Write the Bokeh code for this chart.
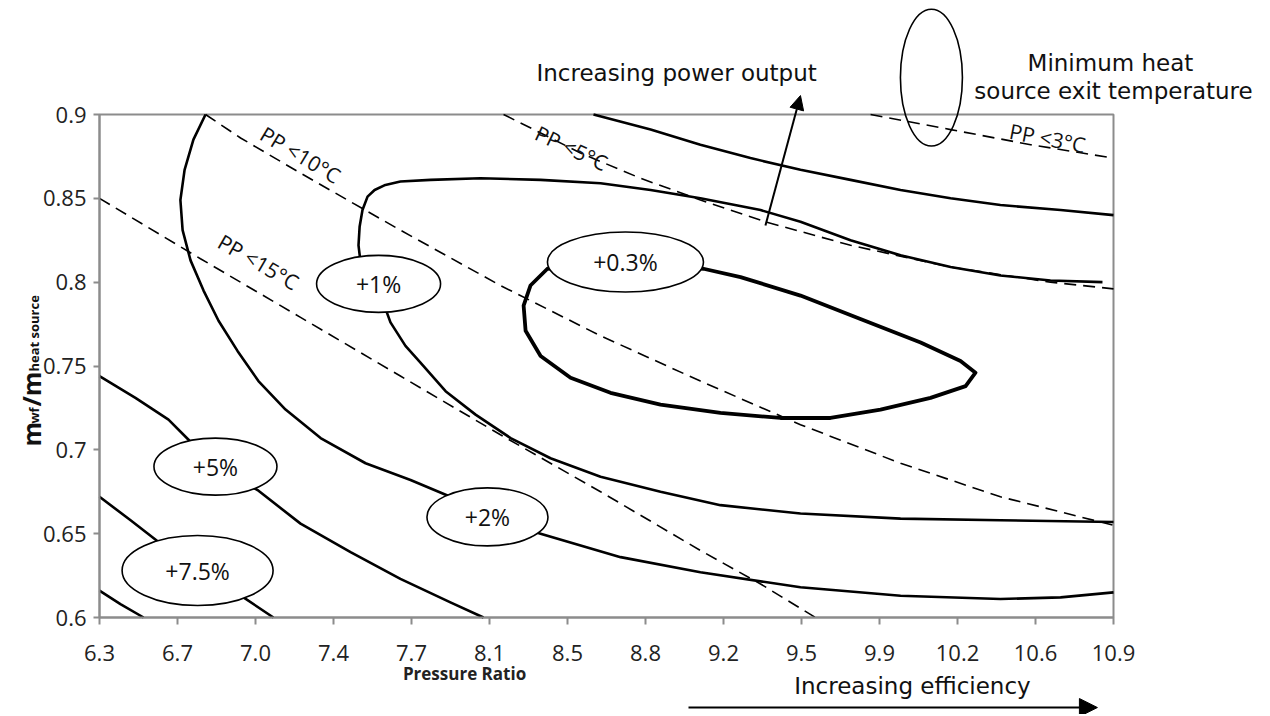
import math
from bokeh.plotting import figure
from bokeh.models import Range1d, FixedTicker, Label, Arrow, NormalHead, BoxAnnotation
from bokeh.embed import file_html
from bokeh.resources import INLINE
from bokeh.core.properties import value

# ---------------- data ----------------
x_tick_labels = ["6.3", "6.7", "7.0", "7.4", "7.7", "8.1", "8.5", "8.8", "9.2", "9.5", "9.9", "10.2", "10.6", "10.9"]
y_tick_values = [0.6, 0.65, 0.7, 0.75, 0.8, 0.85, 0.9]
y_tick_labels = ["0.6", "0.65", "0.7", "0.75", "0.8", "0.85", "0.9"]

# pinch-point limit lines (dashed)
pp15_x = [6.3, 6.758, 7.212, 7.665, 8.119, 8.573, 9.026, 9.299, 9.548]
pp15_y = [0.850, 0.814, 0.779, 0.744, 0.709, 0.675, 0.640, 0.620, 0.600]
pp10_x = [6.781, 6.940, 7.212, 7.665, 8.119, 8.573, 9.026, 9.480, 9.934, 10.387, 10.660, 10.9]
pp10_y = [0.900, 0.886, 0.865, 0.831, 0.798, 0.768, 0.741, 0.715, 0.692, 0.672, 0.663, 0.655]
pp5_x = [8.133, 8.301, 8.482, 8.754, 9.026, 9.321, 9.707, 10.161, 10.614, 10.9]
pp5_y = [0.900, 0.889, 0.877, 0.862, 0.849, 0.836, 0.822, 0.809, 0.800, 0.796]
pp3_x = [9.798, 10.161, 10.524, 10.9]
pp3_y = [0.900, 0.891, 0.882, 0.874]

# contours (solid)
ctop_x = [8.541, 8.800, 9.026, 9.253, 9.480, 9.707, 9.934, 10.161, 10.387, 10.660, 10.9]
ctop_y = [0.900, 0.891, 0.882, 0.874, 0.867, 0.861, 0.855, 0.850, 0.846, 0.843, 0.840]

c03_x = [8.686, 9.040, 9.208, 9.480, 9.752, 10.025, 10.206, 10.274, 10.229, 10.070, 9.843, 9.616,
         9.389, 9.117, 8.845, 8.618, 8.437, 8.301, 8.233, 8.224, 8.255, 8.332, 8.686]
c03_y = [0.812, 0.808, 0.803, 0.792, 0.778, 0.764, 0.753, 0.746, 0.738, 0.731, 0.724, 0.719,
         0.719, 0.722, 0.727, 0.734, 0.743, 0.756, 0.771, 0.786, 0.798, 0.808, 0.812]

c1_x = [10.850, 10.614, 10.387, 10.161, 9.934, 9.707, 9.480, 9.299, 9.026, 8.800,
        8.573, 8.301, 8.028, 7.802, 7.665, 7.597, 7.548, 7.516, 7.493, 7.480,
        7.475, 7.484, 7.511, 7.566, 7.584, 7.620, 7.688, 7.756, 7.870, 8.006,
        8.165, 8.346, 8.573, 8.845, 9.117, 9.480, 9.934, 10.387, 10.9]
c1_y = [0.800, 0.801, 0.804, 0.809, 0.816, 0.825, 0.836, 0.843, 0.850, 0.855,
        0.859, 0.861, 0.862, 0.861, 0.860, 0.858, 0.855, 0.851, 0.843, 0.833,
        0.822, 0.812, 0.805, 0.799, 0.789, 0.776, 0.762, 0.752, 0.735, 0.721,
        0.707, 0.695, 0.684, 0.675, 0.667, 0.662, 0.659, 0.658, 0.657]

c2_x = [6.781, 6.726, 6.686, 6.667, 6.677, 6.713, 6.772, 6.840, 6.926, 7.021, 7.144, 7.303,
        7.507, 7.711, 7.892, 8.060, 8.301, 8.664, 9.026, 9.480, 9.934, 10.387, 10.660, 10.9]
c2_y = [0.900, 0.885, 0.867, 0.849, 0.831, 0.813, 0.795, 0.777, 0.759, 0.741, 0.724, 0.707,
        0.692, 0.682, 0.672, 0.660, 0.650, 0.636, 0.627, 0.618, 0.613, 0.611, 0.612, 0.615]

c5_x = [6.3, 6.463, 6.613, 6.704, 6.826, 7.017, 7.212, 7.439, 7.665, 7.892, 8.042]
c5_y = [0.744, 0.731, 0.718, 0.706, 0.690, 0.676, 0.656, 0.639, 0.623, 0.609, 0.600]

c75_x = [6.3, 6.441, 6.568, 6.745, 6.953, 7.089]
c75_y = [0.672, 0.658, 0.645, 0.630, 0.612, 0.600]

c10_x = [6.3, 6.395, 6.5]
c10_y = [0.616, 0.608, 0.600]

# contour labels
lab_text = ["+0.3%", "+1%", "+2%", "+5%", "+7.5%"]
lab_x = [8.686, 7.566, 8.060, 6.826, 6.745]
lab_y = [0.812, 0.799, 0.660, 0.690, 0.628]

# pinch-point labels
pp_text = ["PP <15°C", "PP <10°C", "PP <5°C", "PP <3°C"]
pp_lx = [7.021, 7.212, 8.441, 10.601]
pp_ly = [0.812, 0.876, 0.880, 0.886]

# ---------------- layout / styles ----------------
X0, X1 = 6.3, 10.9
Y0, Y1 = 0.6, 0.9
W, H = 1266, 714
FL, FR, FT, FB = 99, 1113, 114, 617          # edges of the plotting box on the canvas (px)
sxp = (FR - FL) / (X1 - X0)
syp = (FB - FT) / (Y1 - Y0)
xmin = X0 - FL / sxp
xmax = xmin + W / sxp
ymax = Y1 + FT / syp
ymin = ymax - H / syp

n = len(x_tick_labels) - 1
x_tick_pos = [X0 + i * (X1 - X0) / n for i in range(n + 1)]

lab_w = [156, 124, 121, 123, 151]
lab_h = [60, 57, 58, 57, 70]
pp_angle_deg = [-30, -31, -25, -11]

GRAY = "#8c8c8c"
TICK_FONT = "Open Sans"
ANN_FONT = "DejaVu Sans"

p = figure(frame_width=W, frame_height=H, min_border=0,
           x_range=Range1d(xmin, xmax), y_range=Range1d(ymin, ymax),
           output_backend="svg", toolbar_location=None, background_fill_color="white",
           border_fill_color="white")
p.title.visible = False
p.grid.visible = False
p.outline_line_color = None

p.xaxis.fixed_location = Y0
p.xaxis.bounds = (X0, X1)
p.yaxis.fixed_location = X0
p.yaxis.bounds = (Y0, Y1)
p.xaxis.ticker = FixedTicker(ticks=x_tick_pos)
p.xaxis.major_label_overrides = {x_tick_pos[i]: x_tick_labels[i] for i in range(n + 1)}
p.yaxis.ticker = FixedTicker(ticks=y_tick_values)
p.yaxis.major_label_overrides = {y_tick_values[i]: y_tick_labels[i] for i in range(len(y_tick_values))}
for ax in (p.xaxis[0], p.yaxis[0]):
    ax.axis_line_color = GRAY
    ax.axis_line_width = 2
    ax.major_tick_line_color = GRAY
    ax.major_tick_line_width = 2
    ax.major_tick_in = 0
    ax.minor_tick_line_color = None
    ax.major_label_text_font = TICK_FONT
    ax.major_label_text_font_size = "22px"
    ax.major_label_text_color = "#222222"
p.xaxis.major_tick_out = 7
p.yaxis.major_tick_out = 6
p.xaxis.major_label_standoff = 20
p.yaxis.major_label_standoff = 7

# box around the plotting area
p.add_layout(BoxAnnotation(left=X0, right=X1, bottom=Y0, top=Y1, fill_alpha=0,
                           line_color=GRAY, line_width=2, line_alpha=1, level="underlay"))

# dashed pinch lines
for xs, ys in [(pp15_x, pp15_y), (pp10_x, pp10_y), (pp5_x, pp5_y), (pp3_x, pp3_y)]:
    p.line(xs, ys, line_color="black", line_width=1.6, line_dash="12 7")

# solid contours
for xs, ys in [(ctop_x, ctop_y), (c1_x, c1_y), (c2_x, c2_y), (c5_x, c5_y), (c75_x, c75_y), (c10_x, c10_y)]:
    p.line(xs, ys, line_color="black", line_width=2.6, line_join="round")
p.line(c03_x, c03_y, line_color="black", line_width=3.8, line_join="round")

# label ellipses
p.ellipse(x=lab_x, y=lab_y, width=lab_w, height=lab_h, width_units="screen", height_units="screen",
          fill_color="white", line_color="black", line_width=1.6)
p.text(x=lab_x, y=lab_y, text=lab_text, text_font=value(TICK_FONT), text_font_size="23px",
       text_align="center", text_baseline="middle", text_color="#111111")

# pinch-point labels
p.text(x=pp_lx, y=pp_ly, text=pp_text, angle=[math.radians(a) for a in pp_angle_deg],
       text_font=value(TICK_FONT), text_font_size="21px", text_align="center",
       text_baseline="middle", text_color="#111111")

# axis titles
p.add_layout(Label(x=7.956, y=0.5666, text="Pressure Ratio", text_font=TICK_FONT,
                   text_font_size="17px", text_font_style="bold", text_align="center",
                   text_baseline="middle", text_color="#222222"))
ylab_parts = [("m", 5.987, 0.7020, "25px"), ("wf", 6.005, 0.7157, "13px"),
              ("/m", 5.987, 0.7258, "25px"), ("heat source", 6.005, 0.7467, "13px")]
for t, xx, yy, fs in ylab_parts:
    p.add_layout(Label(x=xx, y=yy, text=t, angle=math.pi / 2, text_font=TICK_FONT,
                       text_font_size=fs, text_font_style="bold", text_align="left",
                       text_baseline="alphabetic", text_color="#111111"))

# annotations around the plotting box
p.add_layout(Label(x=8.918, y=0.925, text="Increasing power output", text_font=ANN_FONT,
                   text_font_size="23px", text_align="center", text_baseline="middle",
                   text_color="#111111"))
p.add_layout(Arrow(x_start=9.321, y_start=0.8338, x_end=9.480, y_end=0.9113, line_width=2,
                   line_color="black",
                   end=NormalHead(size=14, fill_color="black", line_color="black")))
p.add_layout(Label(x=9.988, y=0.5594, text="Increasing efficiency", text_font=ANN_FONT,
                   text_font_size="23px", text_align="center", text_baseline="middle",
                   text_color="#111111"))
p.add_layout(Arrow(x_start=8.972, y_start=0.5463, x_end=10.827, y_end=0.5463, line_width=2,
                   line_color="black",
                   end=NormalHead(size=18, fill_color="black", line_color="black")))
p.add_layout(Label(x=10.886, y=0.931, text="Minimum heat", text_font=ANN_FONT,
                   text_font_size="23px", text_align="center", text_baseline="middle",
                   text_color="#111111"))
p.add_layout(Label(x=10.9, y=0.9143, text="source exit temperature", text_font=ANN_FONT,
                   text_font_size="23px", text_align="center", text_baseline="middle",
                   text_color="#111111"))
p.ellipse(x=[10.074], y=[0.922], width=[62], height=[137], width_units="screen",
          height_units="screen", fill_alpha=0, line_color="black", line_width=1.6)

open("out.html", "w").write(file_html(p, INLINE))
